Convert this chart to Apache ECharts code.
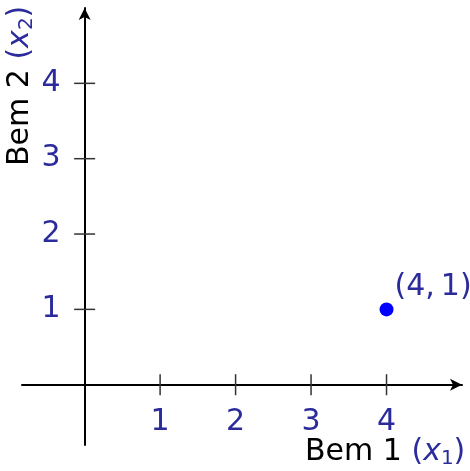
<!DOCTYPE html>
<html>
<head>
<meta charset="utf-8">
<script src="https://cdn.jsdelivr.net/npm/echarts@6/dist/echarts.min.js"></script>
<style>
  html, body { margin: 0; padding: 0; background: #fff; }
  #main { width: 470px; height: 471px; }
</style>
</head>
<body>
<div id="main"></div>
<script>
// data
var tickValues = [1, 2, 3, 4];
var point = [4, 1];
var pointLabel = '(4,\u20091)';
var xRange = [-0.83, 5];
var yRange = [-0.8, 5];

var blueText = '#2b2b9c';
var fontFam = 'DejaVu Sans';

var gridL = 22, gridR = 8, gridT = 8, gridB = 26;
var W = 470, H = 471;

// put the axis lines through the origin via offset
var gw = W - gridL - gridR, gh = H - gridT - gridB;
var xOff = -gh * (0 - yRange[0]) / (yRange[1] - yRange[0]);
var yOff = -gw * (0 - xRange[0]) / (xRange[1] - xRange[0]);

var chart = echarts.init(document.getElementById('main'));

// crossing tick marks drawn as tiny rects on the axes
var xTicks = tickValues.map(function (v) { return [v, 0]; });
var yTicks = tickValues.map(function (v) { return [0, v]; });

var nameRich = {
    p: { fill: blueText, fontFamily: fontFam, fontSize: 30, verticalAlign: 'middle' },
    v: { fill: blueText, fontFamily: fontFam, fontSize: 30, fontStyle: 'italic', verticalAlign: 'middle' },
    s: { fill: blueText, fontFamily: fontFam, fontSize: 20, padding: [13, 0, 0, 0], verticalAlign: 'middle' },
    k: { fill: '#000', fontFamily: fontFam, fontSize: 30, verticalAlign: 'middle' }
};

var option = {
    animation: false,
    grid: { left: gridL, right: gridR, top: gridT, bottom: gridB, outerBoundsMode: 'none', containLabel: false },
    xAxis: {
        type: 'value',
        min: xRange[0],
        max: xRange[1],
        offset: xOff,
        splitLine: { show: false },
        axisTick: { show: false },
        axisLine: {
            onZero: false,
            symbol: ['none', 'arrow'],
            symbolSize: [9, 12],
            lineStyle: { color: '#000', width: 2 }
        },
        axisLabel: {
            customValues: tickValues,
            margin: 22,
            color: blueText,
            fontFamily: fontFam,
            fontSize: 30
        }
    },
    yAxis: {
        type: 'value',
        min: yRange[0],
        max: yRange[1],
        offset: yOff,
        splitLine: { show: false },
        axisTick: { show: false },
        axisLine: {
            onZero: false,
            symbol: ['none', 'arrow'],
            symbolSize: [9, 12],
            lineStyle: { color: '#000', width: 2 }
        },
        axisLabel: {
            customValues: tickValues,
            margin: 24,
            color: blueText,
            fontFamily: fontFam,
            fontSize: 30
        }
    },
    series: [
        {
            type: 'scatter',
            data: xTicks,
            symbol: 'rect',
            symbolSize: [1.5, 21],
            itemStyle: { color: '#333', opacity: 1 },
            silent: true
        },
        {
            type: 'scatter',
            data: yTicks,
            symbol: 'rect',
            symbolSize: [21, 1.5],
            itemStyle: { color: '#333', opacity: 1 },
            silent: true
        },
        {
            type: 'scatter',
            data: [point],
            symbolSize: 14,
            itemStyle: { color: '#0000ff', opacity: 1 },
            label: {
                show: true,
                formatter: pointLabel,
                position: [15, -30],
                color: blueText,
                fontFamily: fontFam,
                fontSize: 30
            }
        }
    ],
    graphic: [
        {
            type: 'text',
            left: 305,
            top: 437,
            style: {
                text: '{k|Bem 1 }{p|(}{v|x}{s|1}{p|)}',
                rich: nameRich
            }
        },
        {
            type: 'text',
            x: 4,
            y: 166,
            rotation: Math.PI / 2,
            style: {
                text: '{k|Bem 2 }{p|(}{v|x}{s|2}{p|)}',
                verticalAlign: 'top',
                rich: nameRich
            }
        }
    ]
};

chart.setOption(option);
</script>
</body>
</html>
